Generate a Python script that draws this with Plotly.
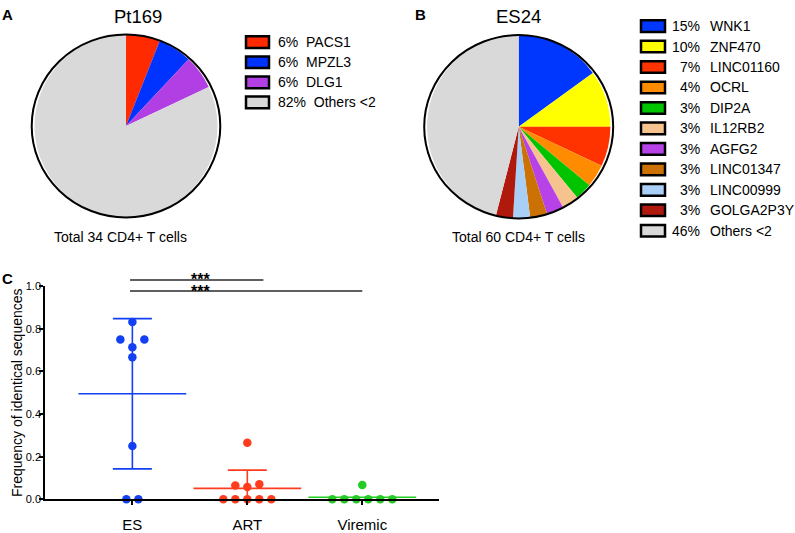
import numpy as np
import plotly.graph_objects as go

W, H = 795, 533

# ---- data ----
pt169_labels = ["PACS1", "MPZL3", "DLG1", "Others <2"]
pt169_pct = [6, 6, 6, 82]
pt169_colors = ["#ff2a00", "#0033ff", "#b23fe3", "#d9d9d9"]

es24_labels = ["WNK1", "ZNF470", "LINC01160", "OCRL", "DIP2A", "IL12RB2",
               "AGFG2", "LINC01347", "LINC00999", "GOLGA2P3Y", "Others <2"]
es24_pct = [15, 10, 7, 4, 3, 3, 3, 3, 3, 3, 46]
es24_colors = ["#0037ff", "#ffff00", "#ff3300", "#ff8c00", "#00c400", "#f6c38f",
               "#b743e8", "#cc7204", "#a9cff7", "#b01a0c", "#d9d9d9"]

groups = ["ES", "ART", "Viremic"]
es_freq = [0.833, 0.75, 0.75, 0.714, 0.667, 0.25, 0.0, 0.0]
art_freq = [0.265, 0.07, 0.064, 0.058, 0.0, 0.0, 0.0, 0.0, 0.0]
viremic_freq = [0.067, 0.0, 0.0, 0.0, 0.0, 0.0, 0.0]
group_colors = ["#1240f2", "#ff3c1e", "#22cc22"]

FONT = "Arial, Liberation Sans, sans-serif"


def px_x(px):
    return px / W


def px_y(py):
    return 1 - py / H


def pie_domain(cx, cy, r):
    return dict(x=[(cx - r) / W, (cx + r) / W], y=[1 - (cy + r) / H, 1 - (cy - r) / H])


def swarm(vals, gap=0.04):
    # spread points with near-equal values side by side, centred on the group
    order = sorted(range(len(vals)), key=lambda k: vals[k])
    clusters, cur = [], [order[0]]
    for k in order[1:]:
        if vals[k] - vals[cur[-1]] < gap:
            cur.append(k)
        else:
            clusters.append(cur)
            cur = [k]
    clusters.append(cur)
    offs = [0.0] * len(vals)
    for cl in clusters:
        n = len(cl)
        if n % 2:
            slots = [0] + [s for m in range(1, n) for s in (-m, m)]
        else:
            slots = [s for m in range(n) for s in (-(m + 0.5), m + 0.5)]
        for k, s in zip(cl, slots[:n]):
            offs[k] = s
    return offs


fig = go.Figure()

# ---- pies ----
pieA = (126, 123.7, 94.3)
pieB = (518.7, 124.5, 94.5)

for (cx, cy, r), labels, vals, cols in [(pieA, pt169_labels, pt169_pct, pt169_colors),
                                         (pieB, es24_labels, es24_pct, es24_colors)]:
    fig.add_trace(go.Pie(labels=labels, values=vals, sort=False, direction="clockwise",
                         rotation=0, textinfo="none", hoverinfo="label+percent",
                         marker=dict(colors=cols, line=dict(width=0)),
                         domain=pie_domain(cx, cy, r), showlegend=False))
    fig.add_shape(type="circle", xref="paper", yref="paper",
                  x0=(cx - r) / W, x1=(cx + r) / W, y0=1 - (cy + r) / H, y1=1 - (cy - r) / H,
                  line=dict(color="black", width=2))

annots = []


def text(x, y, s, size=14, xanchor="center", bold=False, **kw):
    annots.append(dict(x=px_x(x), y=px_y(y), xref="paper", yref="paper", text=f"<b>{s}</b>" if bold else s,
                       showarrow=False, xanchor=xanchor, yanchor="middle",
                       font=dict(family=FONT, size=size, color="black"), **kw))


text(137.5, 11, "Pt169", size=18.5)
text(518.5, 11, "ES24", size=18.5)
text(120, 238, "Total 34 CD4+ T cells", size=14)
text(518.7, 238, "Total 60 CD4+ T cells", size=14)
text(0, 9, "A", size=15, xanchor="left", bold=True)
text(413, 9, "B", size=15, xanchor="left", bold=True)
text(0, 281, "C", size=15, xanchor="left", bold=True)

# legend A
for i, (lab, p, c) in enumerate(zip(pt169_labels, pt169_pct, pt169_colors)):
    cy = 37.3 + i * 20.7
    fig.add_shape(type="rect", xref="paper", yref="paper", x0=px_x(246), x1=px_x(269),
                  y0=px_y(cy + 6), y1=px_y(cy - 6), fillcolor=c, line=dict(color="black", width=2.5))
    text(276, cy, f"{p}%\u00a0\u00a0{lab}", xanchor="left")

# legend B
for i, (lab, p, c) in enumerate(zip(es24_labels, es24_pct, es24_colors)):
    cy = 20.7 + i * 21.1
    fig.add_shape(type="rect", xref="paper", yref="paper", x0=px_x(641), x1=px_x(665),
                  y0=px_y(cy + 6), y1=px_y(cy - 6), fillcolor=c, line=dict(color="black", width=2.5))
    text(702, cy, f"{p}%", xanchor="right")
    text(708, cy, lab, xanchor="left")

# ---- panel C ----
xr = [-0.76, 2.67]
xdom = [45 / W, 439.3 / W]
ydom = [1 - 508.5 / H, 1 - 289 / H]
x_ppu = (xdom[1] - xdom[0]) * W / (xr[1] - xr[0])
slot = 12 / x_ppu

for i, (g, vals, c) in enumerate(zip(groups, [es_freq, art_freq, viremic_freq], group_colors)):
    v = np.array(vals)
    mean, sd = v.mean(), v.std(ddof=1)
    fig.add_trace(go.Scatter(x=[i], y=[mean], mode="markers", showlegend=False,
                             marker=dict(symbol="line-ew", size=77, line=dict(color=c, width=1.6)),
                             error_y=dict(type="data", array=[sd], visible=(g != "Viremic"),
                                          color=c, thickness=1.6, width=19.5)))
for i, (g, vals, c) in enumerate(zip(groups, [es_freq, art_freq, viremic_freq], group_colors)):
    xs = [i + o * slot for o in swarm(vals)]
    fig.add_trace(go.Scatter(x=xs, y=vals, mode="markers", name=g, showlegend=False, cliponaxis=False,
                             marker=dict(color=c, size=8.5)))


def xd(x):
    return (x - xr[0]) / (xr[1] - xr[0])


# significance bars
for (x0, x1, y, ys) in [(-0.02, 1.14, 1.03, 1.032), (-0.02, 2.0, 0.978, 0.976)]:
    fig.add_shape(type="line", xref="x domain", yref="y domain", x0=xd(x0), x1=xd(x1), y0=y, y1=y,
                  line=dict(color="#2a2a2a", width=1.6))
    annots.append(dict(x=xd(0.59), y=ys, xref="x domain", yref="y domain", text="<b>***</b>",
                       showarrow=False, xanchor="center", yanchor="middle",
                       font=dict(family=FONT, size=16, color="black")))

annots.append(dict(x=px_x(17), y=px_y(399), xref="paper", yref="paper", text="Frequency of identical sequences",
                   textangle=-90, showarrow=False, xanchor="center", yanchor="middle",
                   font=dict(family=FONT, size=14, color="black")))

fig.update_xaxes(domain=xdom, range=xr, tickvals=[0, 1, 2], ticktext=groups, showgrid=False, zeroline=False,
                 showline=True, linecolor="black", linewidth=1.5, ticks="outside", ticklen=4, tickwidth=1.5,
                 tickcolor="black", tickfont=dict(family=FONT, size=15, color="black"), ticklabelstandoff=7)
fig.update_yaxes(domain=ydom, range=[0, 1], tickvals=[0, 0.2, 0.4, 0.6, 0.8, 1.0], tickformat=".1f",
                 showgrid=False, zeroline=False, showline=True, linecolor="black", linewidth=1.5,
                 ticks="outside", ticklen=4, tickwidth=1.5, tickcolor="black", ticklabelstandoff=-4,
                 tickfont=dict(family=FONT, size=11, color="black"))

fig.update_layout(width=W, height=H, margin=dict(l=0, r=0, t=0, b=0), paper_bgcolor="white",
                  plot_bgcolor="white", annotations=annots, font=dict(family=FONT))

# page body has a default 8px margin; drop it so the figure sits at the window corner
fig.write_html("out.html", config={"displayModeBar": False},
               post_script="document.body.style.margin='0';")
